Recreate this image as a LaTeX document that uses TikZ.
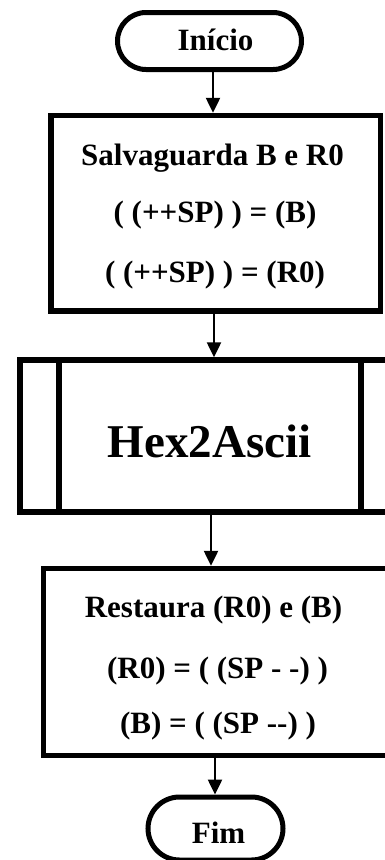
\documentclass[tikz,border=0pt]{standalone}
\usepackage{fontspec}
\setmainfont{Liberation Serif}
\usetikzlibrary{arrows.meta,shapes.misc}

\begin{document}
\begin{tikzpicture}[x=1pt,y=-1pt,
  term/.style={draw,line width=5pt,rounded rectangle,inner sep=0pt,
    minimum width=#1,minimum height=57pt},
  frame/.style={draw,line width=5.5pt,rectangle,inner sep=0pt},
  txt/.style={font=\fontsize{31}{31}\selectfont\bfseries,anchor=base,inner sep=0pt},
  bigtxt/.style={font=\fontsize{47}{47}\selectfont\bfseries,anchor=base,inner sep=0pt},
  arr/.style={line width=2.5pt,-{Triangle[width=14pt,length=15pt]}}]

% page area
\path[use as bounding box] (0,0) rectangle (385,860);
\clip (0,0) rectangle (385,860);
\fill[white] (0,0) rectangle (385,860);

% terminals and process boxes
\node[term=184pt] (start) at (209.5,41) {};
\node[txt] (startlbl) at (215.5,50) {Início};

\node[frame,minimum width=329.5pt,minimum height=195.5pt] (save) at (215.75,213.25) {};
\node[txt] (save1) at (212.5,165) {Salvaguarda B e R0};
\node[txt] (save2) at (215,222) {( (++SP) ) = (B)};
\node[txt] (save3) at (215,282) {( (++SP) ) = (R0)};

\node[frame,minimum width=390pt,minimum height=152pt] (hex) at (215,436) {};
\draw[line width=5.5pt] ([xshift=41.75pt]hex.north west) -- ([xshift=41.75pt]hex.south west);
\draw[line width=5.5pt] ([xshift=343.75pt]hex.north west) -- ([xshift=343.75pt]hex.south west);
\node[bigtxt] (hexlbl) at (209.5,457) {Hex2Ascii};

\node[frame,minimum width=366.5pt,minimum height=187pt] (rest) at (226.75,662) {};
\node[txt] (rest1) at (213.5,617) {Restaura (R0) e (B)};
\node[txt] (rest2) at (217.5,678) {(R0) = ( (SP - -) )};
\node[txt] (rest3) at (218,733) {(B) = ( (SP -{}-) )};

\node[term=135pt,minimum height=63pt] (stop) at (215.5,828.5) {};
\node[txt] (stoplbl) at (218.5,843) {Fim};

% connectors
\coordinate (c1) at (213,0);
\coordinate (c2) at (214,0);
\coordinate (c3) at (211,0);
\coordinate (c4) at (215,0);
\draw[arr] (start.south -| c1) -- (save.north -| c1);
\draw[arr] (save.south -| c2) -- (hex.north -| c2);
\draw[arr] (hex.south -| c3) -- (rest.north -| c3);
\draw[arr] (rest.south -| c4) -- (stop.north -| c4);
\end{tikzpicture}
\end{document}
